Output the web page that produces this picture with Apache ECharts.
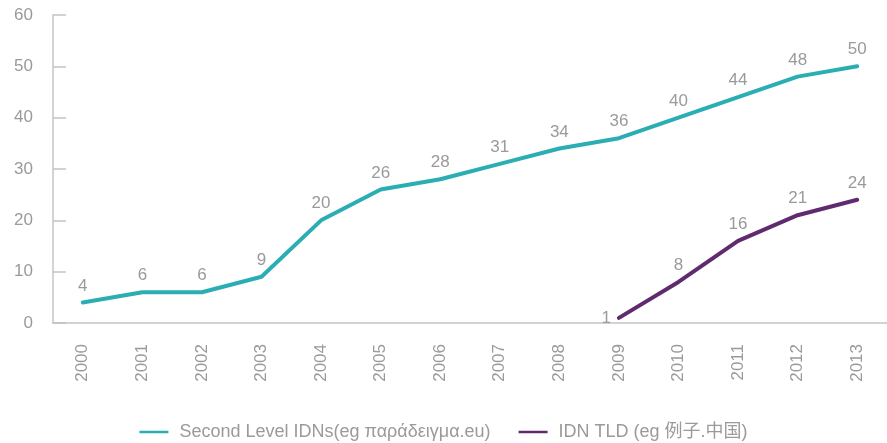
<!DOCTYPE html>
<html>
<head>
<meta charset="utf-8">
<script src="https://cdn.jsdelivr.net/npm/echarts@6/dist/echarts.min.js"></script>
<style>
  html, body { margin: 0; padding: 0; background: #fff; }
  #chart { width: 887px; height: 443px; }
</style>
</head>
<body>
<div id="chart"></div>
<script>
// Years on the category axis
const years = ['2000','2001','2002','2003','2004','2005','2006','2007','2008','2009','2010','2011','2012','2013'];
// Second level IDNs, per year
const secondLevel = [4, 6, 6, 9, 20, 26, 28, 31, 34, 36, 40, 44, 48, 50];
// IDN top level domains, starting in 2009
const idnTld = [null, null, null, null, null, null, null, null, null, 1, 8, 16, 21, 24];
// Value axis ticks
const yTicks = [0, 10, 20, 30, 40, 50, 60];

const seriesNames = ['Second Level IDNs(eg παράδειγμα.eu)', 'IDN TLD (eg 例子.中国)'];
const FONT = '"Liberation Sans", "Noto Sans", "Noto Sans CJK SC", sans-serif';
const GREY = '#9a9a9a';
const AXIS = '#c4c4c4';
const FS = 17;

const valueLabel = { show: true, position: 'top', distance: 8, color: GREY, fontSize: FS, fontFamily: FONT };

const chart = echarts.init(document.getElementById('chart'));
chart.setOption({
  animation: false,
  textStyle: { fontFamily: FONT },
  grid: { left: 53, top: 15, width: 840, height: 308, containLabel: false },
  legend: {
    top: 418,
    left: 'center',
    itemWidth: 29,
    itemHeight: 10,
    itemGap: 28,
    icon: 'path://M0,4 L29,4 L29,6.5 L0,6.5 Z',
    textStyle: { color: GREY, fontSize: 18, fontFamily: FONT, padding: [0, 0, 0, 6] },
    data: seriesNames
  },
  xAxis: {
    type: 'category',
    data: years,
    boundaryGap: true,
    axisLine: { lineStyle: { color: AXIS, width: 1.5 } },
    axisTick: { alignWithLabel: true, length: 9, lineStyle: { color: AXIS, width: 1.5 } },
    axisLabel: { rotate: 90, color: GREY, fontSize: FS, margin: 21, fontFamily: FONT }
  },
  yAxis: {
    type: 'value',
    min: yTicks[0],
    max: yTicks[yTicks.length - 1],
    interval: 10,
    splitLine: { show: false },
    axisLine: { show: true, lineStyle: { color: AXIS, width: 1.5 } },
    axisTick: { show: true, inside: true, length: 13, lineStyle: { color: AXIS, width: 1.5 } },
    axisLabel: { color: GREY, fontSize: FS, margin: 20, fontFamily: FONT }
  },
  series: [
    {
      name: seriesNames[0],
      type: 'line',
      data: secondLevel,
      symbol: 'circle',
      symbolSize: 0.1,
      lineStyle: { color: '#2aaeb4', width: 4, cap: 'round', join: 'round' },
      itemStyle: { color: '#2aaeb4' },
      label: valueLabel
    },
    {
      name: seriesNames[1],
      type: 'line',
      data: idnTld.map((v, i) => (i === 9 && v != null)
        ? { value: v, label: { position: 'left', distance: 8 } }
        : v),
      symbol: 'circle',
      symbolSize: 0.1,
      connectNulls: false,
      lineStyle: { color: '#5f2b6e', width: 4, cap: 'round', join: 'round' },
      itemStyle: { color: '#5f2b6e' },
      label: valueLabel
    }
  ]
});
</script>
</body>
</html>
